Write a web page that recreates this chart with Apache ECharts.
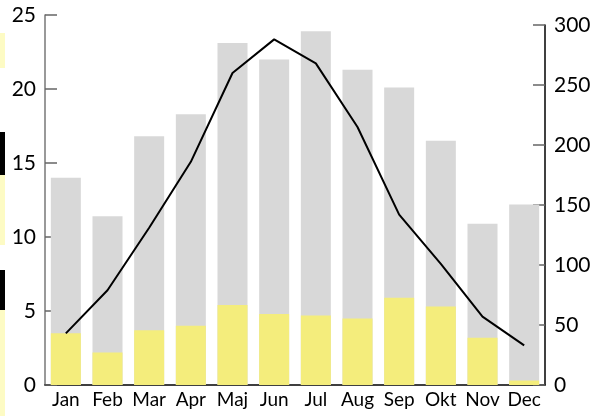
<!DOCTYPE html>
<html>
<head>
<meta charset="utf-8">
<script src="https://cdn.jsdelivr.net/npm/echarts@6/dist/echarts.min.js"></script>
<style>
  html, body { margin: 0; padding: 0; background: #fff; }
  #graphics { width: 605px; height: 416px; }
</style>
</head>
<body>
<div id="graphics"></div>
<script>
// months on the x axis
const months = ['Jan', 'Feb', 'Mar', 'Apr', 'Maj', 'Jun', 'Jul', 'Aug', 'Sep', 'Okt', 'Nov', 'Dec'];
// grey bars (left axis)
const grayBars = [14.0, 11.4, 16.8, 18.3, 23.1, 22.0, 23.9, 21.3, 20.1, 16.5, 10.9, 12.2];
// yellow bars (left axis)
const yellowBars = [3.5, 2.2, 3.7, 4.0, 5.4, 4.8, 4.7, 4.5, 5.9, 5.3, 3.2, 0.3];
// black line (right axis)
const lineValues = [43, 79, 131, 186, 260, 288, 268, 215, 142, 101, 57, 33];

const labelFont = 'Lato';

// cropped strip along the left edge of the picture
function edgeStrip(y, h, color) {
    return { type: 'rect', left: 0, top: y, shape: { width: 5, height: h }, style: { fill: color }, silent: true };
}

var myChart = echarts.init(document.getElementById('graphics'));

var option = {
    animation: false,
    graphic: [
        edgeStrip(33, 35, '#fdfbc4'),
        edgeStrip(132, 43, '#000'),
        edgeStrip(175, 70, '#fdfbc4'),
        edgeStrip(270, 40, '#000'),
        edgeStrip(310, 106, '#fdfbc4')
    ],
    grid: [
        { left: 45, right: 60, top: 15, bottom: 31 },
        { left: 45, right: 60, top: 25, bottom: 31 }
    ],
    xAxis: [{
        type: 'category',
        gridIndex: 0,
        data: months,
        axisLine: { lineStyle: { color: '#000', width: 1.5 } },
        axisTick: { inside: true, length: 8, lineStyle: { color: '#000', width: 1.5 } },
        axisLabel: { color: '#000', fontFamily: labelFont, fontSize: 19, margin: 5, interval: 0, hideOverlap: false }
    }, {
        type: 'category',
        gridIndex: 1,
        data: months,
        show: false
    }],
    yAxis: [{
        type: 'value',
        gridIndex: 0,
        min: 0,
        max: 25,
        interval: 5,
        splitLine: { show: false },
        axisLine: { show: true, lineStyle: { color: '#777', width: 1.5 } },
        axisTick: { show: true, inside: true, length: 12, lineStyle: { color: '#666', width: 1.5 } },
        axisLabel: { color: '#000', fontFamily: labelFont, fontSize: 21, margin: 9 }
    }, {
        type: 'value',
        gridIndex: 1,
        position: 'right',
        min: 0,
        max: 300,
        interval: 50,
        splitLine: { show: false },
        axisLine: { show: true, lineStyle: { color: '#000', width: 1.5 } },
        axisTick: { show: true, inside: true, length: 12, lineStyle: { color: '#666', width: 1.5 } },
        axisLabel: { color: '#000', fontFamily: labelFont, fontSize: 21, margin: 9 }
    }],
    series: [{
        type: 'bar',
        xAxisIndex: 0,
        yAxisIndex: 0,
        data: grayBars,
        barWidth: '72%',
        barGap: '-100%',
        itemStyle: { color: '#d8d8d8' }
    }, {
        type: 'bar',
        xAxisIndex: 0,
        yAxisIndex: 0,
        data: yellowBars,
        barWidth: '72%',
        barGap: '-100%',
        itemStyle: { color: '#f4ed7c' }
    }, {
        type: 'line',
        xAxisIndex: 1,
        yAxisIndex: 1,
        data: lineValues,
        symbol: 'none',
        lineStyle: { color: '#000', width: 2 }
    }]
};

myChart.setOption(option);
</script>
</body>
</html>
